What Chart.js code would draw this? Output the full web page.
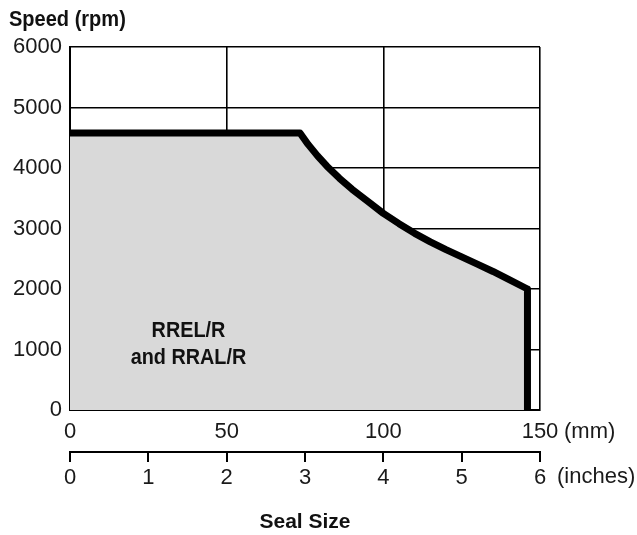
<!DOCTYPE html>
<html>
<head>
<meta charset="utf-8">
<script src="https://cdn.jsdelivr.net/npm/chart.js@4"></script>
<style>
  html, body { margin: 0; padding: 0; background: #fff; }
  #wrap { width: 637px; height: 535px; position: relative; }
</style>
</head>
<body>
<div id="wrap"><canvas id="c" width="637" height="535"></canvas></div>
<script>
// ---- data ----
const sizeMm   = [0,    73.4, 76,   79,   82,   86,   90,   95,   100,  105,  110,  115,  120,  125,  130,  135,  140,  146,  146];
const speedRpm = [4580, 4580, 4390, 4200, 4030, 3830, 3650, 3450, 3250, 3080, 2920, 2780, 2650, 2530, 2410, 2290, 2160, 2000, 0];
const mmTicks   = [0, 50, 100, 150];
const inchTicks = [0, 1, 2, 3, 4, 5, 6];
const rpmTicks  = [0, 1000, 2000, 3000, 4000, 5000, 6000];
const yTitle = 'Speed (rpm)';
const xTitle = 'Seal Size';
const mmUnit = '(mm)';
const inchUnit = '(inches)';
const regionLabel = ['RREL/R', 'and RRAL/R'];
const regionLabelPos = { x: 37.8, y: 1066 };

const FONT = '"Liberation Sans", Arial, Helvetica, sans-serif';
const TXT = '#1a1a1a';

const points = sizeMm.map((x, i) => ({ x: x, y: speedRpm[i] }));

function condensedText(ctx, text, x, y, sx) {
  ctx.save();
  ctx.translate(x, y);
  ctx.scale(sx, 1);
  ctx.fillText(text, 0, 0);
  ctx.restore();
}

const extras = {
  id: 'extras',
  afterDraw(chart) {
    const ctx = chart.ctx;
    const xs = chart.scales.x, ys = chart.scales.y, x2 = chart.scales.x2;
    ctx.save();
    // region label with grey background box
    const cx = xs.getPixelForValue(regionLabelPos.x);
    const cy = ys.getPixelForValue(regionLabelPos.y);
    ctx.fillStyle = '#d9d9d9';
    ctx.fillRect(cx - 69, cy - 32, 138, 64);
    ctx.fillStyle = '#111';
    ctx.font = 'bold 22px ' + FONT;
    ctx.textAlign = 'center';
    ctx.textBaseline = 'middle';
    condensedText(ctx, regionLabel[0], cx, cy - 15, 0.9);
    condensedText(ctx, regionLabel[1], cx, cy + 12, 0.9);
    // y axis title
    ctx.textAlign = 'left';
    condensedText(ctx, yTitle, 9, 20, 0.91);
    // unit labels
    ctx.font = '22px ' + FONT;
    ctx.fillStyle = TXT;
    ctx.fillText(mmUnit, xs.getPixelForValue(150) + 24, 432);
    ctx.fillText(inchUnit, x2.getPixelForValue(6) + 17, 477);
    ctx.restore();
  }
};

new Chart(document.getElementById('c'), {
  type: 'line',
  data: {
    datasets: [{
      data: points,
      borderColor: '#000',
      borderWidth: 7,
      backgroundColor: '#d9d9d9',
      fill: 'origin',
      pointRadius: 0,
      tension: 0,
      borderJoinStyle: 'round',
      borderCapStyle: 'butt'
    }]
  },
  options: {
    responsive: false,
    animation: false,
    events: [],
    layout: { padding: { left: 0, right: 97, top: 47, bottom: 0 } },
    plugins: { legend: { display: false }, tooltip: { enabled: false }, title: { display: false } },
    scales: {
      x: {
        type: 'linear', position: 'bottom', min: 0, max: 150, weight: 0, z: 1,
        afterBuildTicks: s => { s.ticks = mmTicks.map(v => ({ value: v })); },
        afterFit: s => { s.height = 42; },
        grid: { color: '#000', lineWidth: 1.6, drawTicks: false },
        border: { display: true, color: '#000', width: 2 },
        ticks: { font: { family: FONT, size: 22 }, color: TXT, padding: 9, maxRotation: 0, callback: v => String(v) }
      },
      x2: {
        type: 'linear', position: 'bottom', min: 0, max: 6, weight: 1,
        afterBuildTicks: s => { s.ticks = inchTicks.map(v => ({ value: v })); },
        afterFit: s => { s.height = 83; },
        grid: { drawOnChartArea: false, drawTicks: true, tickLength: 10, color: '#000', lineWidth: 2 },
        border: { display: true, color: '#000', width: 2 },
        ticks: { font: { family: FONT, size: 22 }, color: TXT, padding: 3, maxRotation: 0, callback: v => String(v) },
        title: { display: true, text: xTitle, color: '#111', font: { family: FONT, size: 21, weight: 'bold' }, padding: { top: 0, bottom: 0 } }
      },
      y: {
        type: 'linear', min: 0, max: 6000, z: 1,
        afterBuildTicks: s => { s.ticks = rpmTicks.map(v => ({ value: v })); },
        afterFit: s => { s.width = 70; },
        grid: { color: '#000', lineWidth: 1.6, drawTicks: false },
        border: { display: true, color: '#000', width: 2 },
        ticks: { font: { family: FONT, size: 22 }, color: TXT, padding: 8, callback: v => String(v) }
      }
    }
  },
  plugins: [extras]
});
</script>
</body>
</html>
